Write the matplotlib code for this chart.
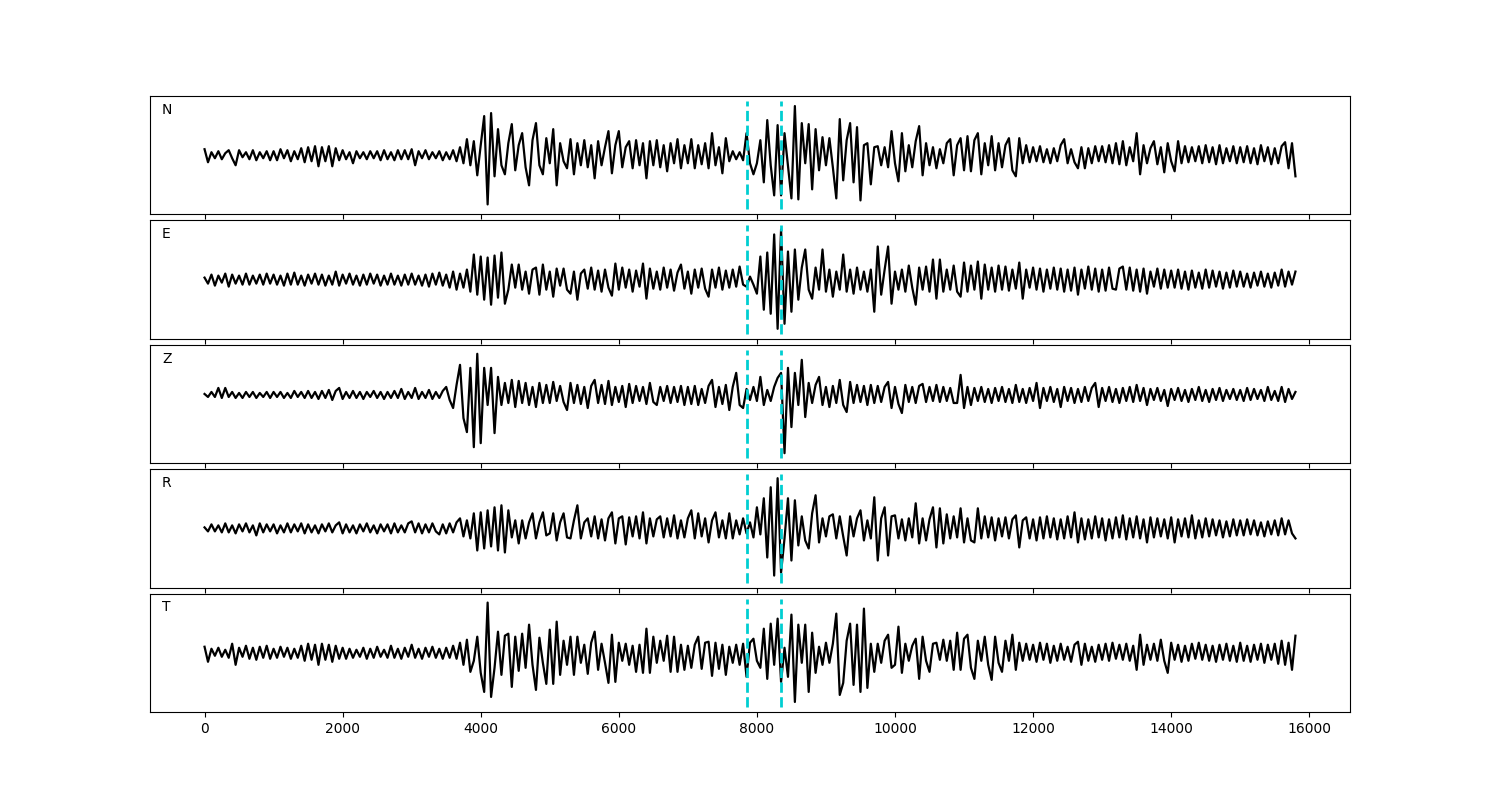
import numpy as np
import matplotlib
matplotlib.use("Agg")
import matplotlib.pyplot as plt

# sample spacing of the traces (x units)
dt = 50
components = ["N", "E", "Z", "R", "T"]
baselines = [0, 0, 9, 0, 0]
picks = [7862, 8355]

# amplitudes (one row per 1000 x-units, sampled every 50)
N_amp = """
6 -7 3 -3 4 -4 2 5 -3 -10 5 -2 3 -4 5 -5 3 -3 4 -5
4 -5 6 -3 5 -6 4 -4 7 -7 8 -6 9 -11 8 -6 9 -11 7 -5
5 -4 3 -8 4 -3 3 -4 4 -3 4 -5 5 -4 3 -5 5 -4 5 -4
6 -10 4 -3 5 -4 3 -3 4 -5 3 -4 5 -6 8 -8 16 -10 14 -20
10 39 -49 42 -21 26 -10 -19 12 31 -15 10 22 -12 -30 15 32 -10 -19 17
-8 26 -30 12 -6 -13 16 -19 12 -10 15 -12 10 -23 14 -10 8 24 -18 10
24 -12 8 14 -13 15 -10 12 -23 14 -10 15 -12 10 -16 12 -8 16 -13 10
-8 16 -13 10 -9 12 -13 22 -10 8 -18 17 -6 4 -4 3 -5 22 -8 -19
-8 15 -27 35 -10 -40 30 -40 22 -10 -43 49 -44 32 -8 31 -34 26 -15 18
-10 17 -12 -43 36 -25 15 32 -27 28 -45 10 12 -29 8 9 -10 8 -12 24
-8 -26 22 -16 10 -12 14 29 -20 12 -10 8 -13 6 -8 12 16 -20 10 17
-15 19 -16 15 22 -19 12 -10 19 -15 12 -12 10 17 -15 -21 17 -8 10 -7
8 -6 9 -7 6 -8 7 -6 10 16 -8 6 -7 -13 8 -13 7 -8 9 -6
9 -7 10 -8 12 -9 14 -10 8 -6 22 -19 10 -8 7 14 -9 8 -17 12
-6 -16 14 -8 9 -7 8 -6 9 -8 10 -7 8 -9 10 -8 7 -6 9 -8
8 -7 9 -8 7 -9 10 -6 8 -9 7 -8 9 13 -13 12 -21
"""

E_amp = """
2 -4 5 -6 4 -3 6 -7 5 -4 4 -5 6 -5 4 -4 5 -5 6 -4
5 -5 4 -6 6 -5 7 -5 4 -6 5 -4 6 -5 5 -6 4 -5 8 -6
5 -4 6 -5 4 -6 5 -5 6 -4 5 -6 4 -5 6 -5 4 -6 5 -5
6 -5 4 -6 5 -7 6 -5 7 -6 5 -8 8 -10 6 -8 10 -12 25 -15
23 -20 22 -25 24 -18 27 -24 -10 15 -8 15 -10 8 -14 10 12 -15 15 -10
8 -17 11 -6 11 -10 -14 8 -20 6 10 -9 12 -10 9 -12 10 -8 -16 16
-10 12 -8 10 -12 9 -7 16 -19 11 -9 8 -10 12 -8 10 -11 7 15 -9
8 -14 10 -8 11 -9 -17 10 -8 12 -10 9 -8 10 -7 13 -5 -7 3 -5
-14 23 -30 27 -34 45 -49 50 -44 28 -32 30 -20 12 30 -10 -19 12 -10 30
-12 10 -17 8 -10 25 -12 10 -14 12 -10 8 -12 10 -32 33 -15 10 33 -24
8 -10 10 -12 14 -8 -25 12 -10 13 -12 20 -19 20 -12 10 -10 14 -12 -17
17 -12 14 -10 18 -19 15 -10 12 -12 14 -10 13 -11 10 -9 17 -19 10 -8
12 -10 11 -12 10 -9 12 -10 11 -12 10 -11 12 -15 10 -9 13 -10 11 -12
10 -11 12 -9 -10 11 13 -10 12 -11 10 -12 11 -14 8 -7 11 -9 10 -8
9 -8 10 -9 8 -10 9 -8 7 -9 10 -8 9 -7 8 -9 7 -8 9 -7
8 -7 6 -8 7 -6 8 -7 6 -8 7 -6 10 -7 8 -5 8
"""

Z_amp = """
1 -2 3 -2 7 -3 7 -2 3 -3 2 -3 3 -2 3 -3 2 -2 3 -3
3 -2 3 -3 2 -3 4 -2 3 -3 4 -3 3 -4 4 -3 5 -5 4 7
-4 3 -3 4 -3 3 -4 3 -2 4 -3 3 -4 3 -3 4 -3 6 -4 3
-3 7 -4 3 -3 5 -4 3 -3 4 8 -5 -13 10 30 -23 -37 27 -52 41
-48 27 -10 27 -38 18 -10 12 -8 15 -12 14 -8 12 -10 8 -12 12 -8 10
-8 13 -6 9 -7 -15 12 -8 10 -9 8 -13 9 15 -8 10 -9 14 -10 8
-7 9 -12 11 -8 9 -6 8 -9 12 -7 -10 8 -6 9 -8 8 -7 9 -10
8 -9 9 -10 6 -8 9 15 -12 8 -9 10 -15 8 22 -10 -13 6 -5 8
-6 18 -10 5 -6 8 17 22 -58 27 -32 22 -10 35 -22 12 -8 10 18 -10
8 -12 9 -8 15 -10 -17 13 -8 10 -7 9 -10 10 -8 9 -7 8 13 -13
8 -9 -18 10 -7 8 -8 9 11 -7 8 -6 10 -7 8 -6 7 -8 -8 20
-13 8 -10 7 -6 8 -7 6 -8 7 -6 8 -7 6 -8 10 -7 6 -8 7
-6 12 -13 7 -6 8 -7 6 -12 8 -6 7 -8 6 -7 8 -6 7 12 -12
7 -6 8 -7 6 -8 7 -6 8 -7 10 -6 7 -10 6 -5 7 -6 5 -11
6 -5 7 -6 5 -7 6 -5 8 -6 5 -7 6 -5 7 -6 5 -4 6 -5
5 -6 7 -5 6 -4 5 -6 8 -5 4 -6 8 -7 6 -4 3
"""

R_amp = """
1 -3 4 -3 3 -4 5 -4 3 -5 4 -3 5 -4 3 -7 5 -4 4 -3
4 -5 3 -4 5 -4 4 -3 5 -5 4 -4 3 -5 4 -3 5 -4 3 6
-5 4 -4 3 -5 4 -3 5 -4 3 -5 4 -3 4 -5 5 -4 3 -4 5
7 -4 5 -5 4 -4 5 -3 -6 4 -5 5 -4 6 10 -8 8 -10 15 -22
16 -20 18 -18 21 -22 23 -24 18 -9 8 -15 8 -10 6 15 -10 6 16 -7
-5 15 -12 6 15 -9 -10 8 23 -10 6 10 -8 12 -10 9 -12 10 16 -15
10 12 -16 11 -8 12 -10 16 -15 10 -8 9 12 -9 10 -8 13 -10 8 -9
10 18 -10 15 -8 10 -14 8 16 -9 8 -10 15 -10 8 -6 10 -5 6 -9
21 -6 30 -29 41 -47 50 -44 -10 30 -32 28 -17 12 -12 -20 15 33 -14 10
-8 12 14 -10 12 -8 -27 12 -8 10 18 -12 8 -10 31 -32 10 21 -27 12
13 -10 9 -12 10 -9 25 -15 10 -12 9 21 -19 20 -15 14 -10 12 -9 20
-14 10 -12 -14 20 -10 12 -9 11 -12 10 -8 11 -10 9 13 -19 8 11 -10
9 -12 11 -10 12 -9 10 -11 9 -10 12 -9 16 -14 10 -11 9 -10 12 -9
10 -12 9 -10 11 -9 13 -11 10 -9 12 -10 9 -14 11 -9 10 -8 9 -10
11 -14 9 -8 10 -9 13 -10 8 -9 10 -8 9 -7 8 -9 7 -8 9 -7
8 -7 9 -6 8 -7 6 -8 7 -6 8 -7 10 -6 8 -5 -10
"""

T_amp = """
6 -9 4 -3 5 -4 3 -5 9 -12 5 -4 7 -6 5 -7 6 -5 7 -6
4 -5 6 -4 5 -6 4 -5 7 -8 9 -7 8 -12 9 -7 8 -9 7 -6
5 -6 4 -5 3 -4 5 -6 4 -5 6 -4 3 -5 7 -5 4 -6 5 -4
8 -5 4 -6 5 -4 6 -5 4 -6 5 -5 7 -6 10 -12 13 -19 -8 16
-20 -39 50 -44 -15 21 -22 17 19 -34 16 -18 19 -15 28 -12 -37 15 -10 -31
23 -31 31 -22 12 -12 16 -22 16 -10 8 -21 10 21 -17 9 -10 -30 18 -29
10 -8 9 -12 7 -19 8 -20 24 -20 16 -10 12 -8 17 -19 16 -19 8 -17
7 -15 8 16 -16 10 11 -23 10 -16 8 -22 6 -10 8 -12 9 -24 10 14
-8 -15 24 -26 29 -12 34 -29 5 -24 38 -49 28 -10 28 -39 20 -20 6 -12
10 -10 9 39 -42 -30 12 29 -32 28 -39 44 -35 9 -19 9 -10 12 18 -15
-12 26 -20 9 -8 7 14 -26 16 -8 -19 9 10 -7 13 -8 12 -17 20 -17
14 18 -15 -26 12 -8 16 -12 -27 16 -10 -19 12 -8 18 -17 10 -8 9 -7
8 -9 10 -7 9 -10 7 -8 9 -7 6 -9 8 11 -12 9 -8 6 -9 8
-7 9 -8 10 -6 8 -7 9 -8 7 -17 18 -12 8 -7 9 -8 13 -8 -20
10 -7 8 -9 7 -8 9 -6 10 -7 8 -8 7 -9 8 -7 9 -8 7 -9
10 -8 7 -9 8 -7 9 -10 8 -7 9 -11 12 -12 10 -17 17
"""

amps = [N_amp, E_amp, Z_amp, R_amp, T_amp]

fig, axes = plt.subplots(5, 1, figsize=(15, 8), dpi=100, sharex=True)
fig.subplots_adjust(left=0.1, right=0.9, top=0.88, bottom=0.11, hspace=0.05)

for ax, name, s, b in zip(axes, components, amps, baselines):
    y = np.array(s.split(), dtype=float) + b
    t = np.arange(len(y)) * dt
    ax.plot(t, y, color="k", lw=1.6)
    ax.vlines(picks, -54, 54, colors="darkturquoise", linestyles="--", lw=2)
    ax.set_ylim(-59, 59)
    ax.set_yticks([])
    ax.text(0.01, 0.85, name, transform=ax.transAxes, fontsize=10)

fig.savefig("out.png", dpi=100)
